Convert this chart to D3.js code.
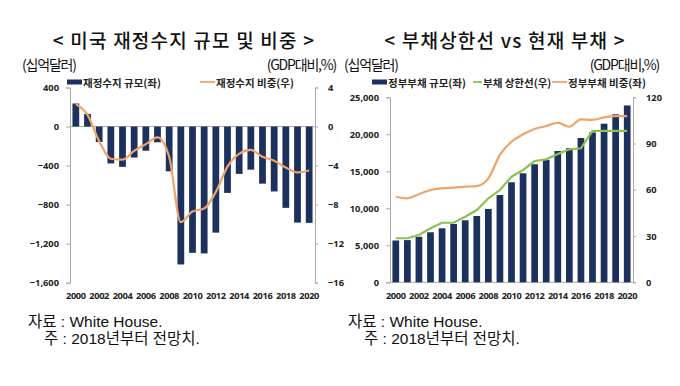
<!DOCTYPE html>
<html>
<head>
<meta charset="utf-8">
<script src="https://cdn.jsdelivr.net/npm/d3@7"></script>
<style>
  body { margin: 0; background: #fff; }
  svg { display: block; }
  .tick text { font-family: "Open Sans", "Noto Sans", sans-serif; font-weight: 700; fill: #222; }
  .ttl { font-family: "Noto Sans CJK KR", sans-serif; font-weight: 500; fill: #111; }
  .unit { font-family: "Noto Sans CJK KR", sans-serif; fill: #111; letter-spacing: -1.2px; }
  .leg { font-family: "Noto Sans CJK KR", sans-serif; font-weight: 700; fill: #222; }
  .foot { font-family: "Liberation Sans", "Noto Sans CJK KR", sans-serif; fill: #111; }
</style>
</head>
<body>
<svg id="chart" width="680" height="386"></svg>
<script>
// years 2000..2020
const years = d3.range(2000, 2021);
const yearTicks = d3.range(2000, 2021, 2);

// left panel: US budget balance (billion $) and % of GDP
const balance = [236, 128, -158, -378, -413, -318, -248, -161, -459, -1413, -1294,
  -1300, -1087, -680, -485, -442, -585, -665, -833, -984, -987];
const balancePct = [2.3, 1.2, -1.5, -3.3, -3.4, -2.5, -1.8, -1.1, -3.1, -9.8, -8.7,
  -8.4, -6.7, -4.1, -2.8, -2.4, -3.1, -3.5, -4.2, -4.7, -4.5];
const balTicksL = [400, 0, -400, -800, -1200, -1600];
const balTicksR = [4, 0, -4, -8, -12, -16];

// right panel: federal debt (billion $), debt ceiling (billion $), debt % of GDP
const debt = [5650, 5700, 6150, 6760, 7300, 7880, 8380, 8960, 9910, 11800, 13520,
  14730, 15950, 16530, 17740, 18110, 19500, 20250, 21430, 22700, 23900];
const ceiling = [5950, 5950, 6400, 7300, 8050, 8050, 8870, 9770, 11350, 12470, 14270,
  15180, 16390, 16620, 17340, 17970, 18110, 20450, 20450, 20450, 20450];
const debtPct = [55.5, 54.5, 57.1, 59.9, 61.0, 61.4, 62.0, 62.4, 67.4, 82.6, 91.2,
  96.0, 99.4, 101.4, 103.5, 100.9, 105.7, 105.3, 107.0, 107.8, 107.8];
const debtTicksL = [0, 5000, 10000, 15000, 20000, 25000];
const debtTicksR = [0, 30, 60, 90, 120];

const navy = "#1c315e", orange = "#eea468", green = "#8cc152";
const svg = d3.select("#chart");
const fmt = d3.format(",");

function panel(o) {
  const g = svg.append("g");
  const x = d3.scaleBand().domain(years).range([o.x0, o.x1]).paddingInner(0.42).paddingOuter(0.21);
  const yL = d3.scaleLinear().domain(o.domL).range([o.yBot, o.yTop]);
  const yR = d3.scaleLinear().domain(o.domR).range([o.yBot, o.yTop]);

  // axes
  const axL = g.append("g").attr("transform", `translate(${o.x0},0)`)
    .call(d3.axisLeft(yL).tickValues(o.ticksL).tickFormat(fmt).tickSize(4).tickPadding(7));
  const axR = g.append("g").attr("transform", `translate(${o.x1},0)`)
    .call(d3.axisRight(yR).tickValues(o.ticksR).tickSize(3).tickPadding(10));
  [axL, axR].forEach(a => {
    a.selectAll("path,line").attr("stroke", "#aaa");
    a.selectAll("text").attr("font-size", 9.3);
  });
  const axX = g.append("g").attr("transform", `translate(0,${o.yBot + 7})`)
    .call(d3.axisBottom(x).tickValues(yearTicks).tickSize(0));
  axX.select("path").remove();
  axX.selectAll("text").attr("font-size", 9.3).attr("letter-spacing", "-0.4px");

  // zero line
  g.append("line").attr("x1", o.x0).attr("x2", o.x1)
    .attr("y1", yL(0)).attr("y2", yL(0)).attr("stroke", "#aaa");

  // bars
  g.selectAll("rect.bar").data(o.bars).join("rect").attr("class", "bar")
    .attr("x", (d, i) => x(years[i])).attr("width", x.bandwidth())
    .attr("y", d => Math.min(yL(d), yL(0)))
    .attr("height", d => Math.abs(yL(d) - yL(0)))
    .attr("fill", navy);

  // lines
  o.lines.forEach(l => {
    const sc = l.axis === "L" ? yL : yR;
    const line = d3.line().x((d, i) => x(years[i]) + x.bandwidth() / 2).y(d => sc(d))
      .curve(l.smooth ? d3.curveMonotoneX : d3.curveLinear);
    g.append("path").datum(l.data).attr("d", line)
      .attr("fill", "none").attr("stroke", l.color).attr("stroke-width", 2.2);
  });

  // titles and units
  g.append("text").attr("class", "ttl").attr("x", o.titleX).attr("y", 48)
    .attr("text-anchor", "middle").attr("font-size", 19).attr("letter-spacing", "1.2px").text(o.title);
  g.append("text").attr("class", "unit").attr("x", o.unitLX).attr("y", 70)
    .attr("font-size", 14).text("(십억달러)");
  g.append("text").attr("class", "unit").attr("x", o.unitRX).attr("y", 70)
    .attr("text-anchor", "end").attr("font-size", 14).text("(GDP대비,%)");

  // legend
  o.legend.forEach(lg => {
    if (lg.type === "bar") {
      g.append("rect").attr("x", lg.x).attr("y", 79.5).attr("width", 15).attr("height", 5).attr("fill", navy);
    } else {
      g.append("line").attr("x1", lg.x).attr("x2", lg.x + (lg.w || 15))
        .attr("y1", 82).attr("y2", 82).attr("stroke", lg.color).attr("stroke-width", 1.8);
    }
    g.append("text").attr("class", "leg").attr("x", lg.x + (lg.w || 15) + 1).attr("y", 86.5)
      .attr("font-size", 10.5).text(lg.label);
  });

  // footnotes
  const f = g.append("g").attr("class", "foot").attr("font-size", 15.5);
  f.append("text").attr("x", o.footX).attr("y", 327).text("자료 : White House.");
  f.append("text").attr("x", o.footX + 16).attr("y", 344).text("주 : 2018년부터 전망치.");
}

panel({
  x0: 70, x1: 315, yTop: 87.5, yBot: 282.7,
  domL: [-1600, 400], domR: [-16, 4], ticksL: balTicksL, ticksR: balTicksR,
  bars: balance,
  lines: [{ data: balancePct, axis: "R", color: orange, smooth: true }],
  title: "< 미국 재정수지 규모 및 비중 >", titleX: 184, unitLX: 22, unitRX: 336,
  legend: [
    { type: "bar", x: 67, label: "재정수지 규모(좌)" },
    { type: "line", x: 200, color: orange, label: "재정수지 비중(우)" }
  ],
  footX: 28
});

panel({
  x0: 390, x1: 633, yTop: 97.3, yBot: 282.3,
  domL: [0, 25000], domR: [0, 120], ticksL: debtTicksL, ticksR: debtTicksR,
  bars: debt,
  lines: [
    { data: ceiling, axis: "L", color: green, smooth: false },
    { data: debtPct, axis: "R", color: orange, smooth: true }
  ],
  title: "< 부채상한선 vs 현재 부채 >", titleX: 505, unitLX: 344, unitRX: 659,
  legend: [
    { type: "bar", x: 372, label: "정부부채 규모(좌)" },
    { type: "line", x: 473, w: 9, color: green, label: "부채 상한선(우)" },
    { type: "line", x: 552, color: orange, label: "정부부채 비중(좌)" }
  ],
  footX: 348
});
</script>
</body>
</html>
